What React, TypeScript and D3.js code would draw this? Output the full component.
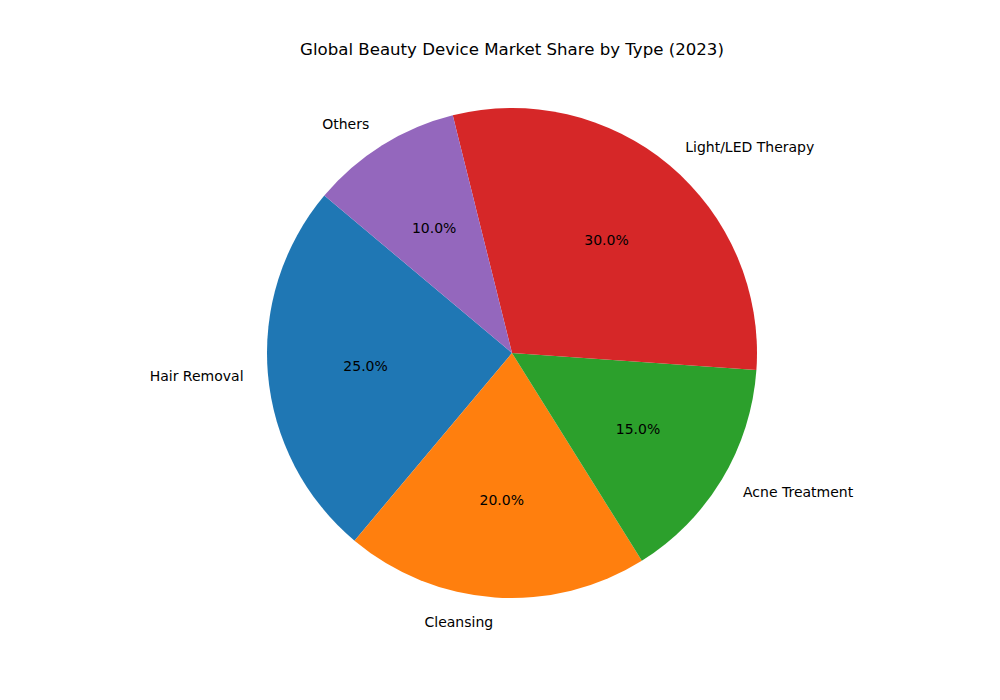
import React from 'react';
import * as d3 from 'd3';

const categories = ['Hair Removal', 'Cleansing', 'Acne Treatment', 'Light/LED Therapy', 'Others'];
const shares = [25, 20, 15, 30, 10];
const colors = ['#1f77b4', '#ff7f0e', '#2ca02c', '#d62728', '#9467bd'];

const width = 1000;
const height = 700;
const cx = 512;
const cy = 353;
const radius = 245;
const startDeg = 140; // counter-clockwise start, measured from +x axis

const App: React.FC = () => {
  const a0 = ((90 - startDeg) * Math.PI) / 180;
  const pie = d3
    .pie<number>()
    .sort(null)
    .startAngle(a0)
    .endAngle(a0 - 2 * Math.PI);
  const arcs = pie(shares);
  const arcGen = d3.arc<d3.PieArcDatum<number>>().innerRadius(0).outerRadius(radius);
  const total = d3.sum(shares);

  return (
    <svg width={width} height={height} style={{ display: 'block', marginLeft: -8, marginTop: -8 }} fontFamily="DejaVu Sans, sans-serif">
      <rect width={width} height={height} fill="#fff" />
      <text x={512} y={50} textAnchor="middle" dominantBaseline="middle" fontSize={16.6}>
        Global Beauty Device Market Share by Type (2023)
      </text>
      <g transform={`translate(${cx},${cy})`}>
        {arcs.map((d, i) => (
          <path key={categories[i]} d={arcGen(d) || ''} fill={colors[i]} />
        ))}
        {arcs.map((d, i) => {
          const mid = (d.startAngle + d.endAngle) / 2;
          const lx = 1.1 * radius * Math.sin(mid);
          const ly = -1.1 * radius * Math.cos(mid);
          const px = 0.6 * radius * Math.sin(mid);
          const py = -0.6 * radius * Math.cos(mid);
          return (
            <g key={`lbl-${categories[i]}`} fontSize={14}>
              <text x={lx} y={ly} textAnchor={lx > 0 ? 'start' : 'end'} dominantBaseline="central">
                {categories[i]}
              </text>
              <text x={px} y={py} textAnchor="middle" dominantBaseline="central">
                {`${((d.data / total) * 100).toFixed(1)}%`}
              </text>
            </g>
          );
        })}
      </g>
    </svg>
  );
};

export default App;
